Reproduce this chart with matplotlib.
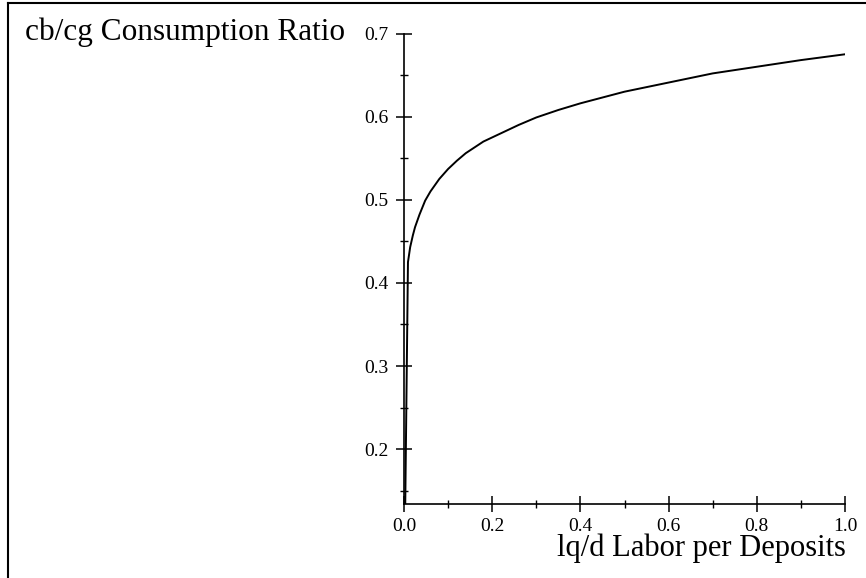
import numpy as np
import matplotlib
matplotlib.use("Agg")
import matplotlib.pyplot as plt
from matplotlib.lines import Line2D
from matplotlib.ticker import FixedLocator

# lq/d against cb/cg, sampled along the curve
labor_per_deposits = [0.0, 0.009, 0.014, 0.02, 0.025, 0.035, 0.048, 0.06, 0.08, 0.1,
                      0.12, 0.14, 0.16, 0.18, 0.22, 0.26, 0.3, 0.35, 0.4, 0.45,
                      0.5, 0.6, 0.7, 0.8, 0.9, 1.0]
consumption_ratio = [0.0, 0.425, 0.443, 0.457, 0.467, 0.482, 0.499, 0.510, 0.525, 0.537,
                     0.547, 0.556, 0.563, 0.570, 0.580, 0.590, 0.599, 0.608, 0.616, 0.623,
                     0.630, 0.641, 0.652, 0.660, 0.668, 0.675]

y_major = [0.2, 0.3, 0.4, 0.5, 0.6, 0.7]
y_minor = [0.15, 0.25, 0.35, 0.45, 0.55, 0.65]
x_major = [0.0, 0.2, 0.4, 0.6, 0.8, 1.0]
x_minor = [0.1, 0.3, 0.5, 0.7, 0.9]

plt.rcParams['font.family'] = ['Liberation Serif', 'DejaVu Serif']

W, H = 866, 578
fig = plt.figure(figsize=(W / 100, H / 100), dpi=100)
ax = fig.add_axes([404 / W, (H - 504) / H, 441 / W, 470.5 / H])

ax.plot(labor_per_deposits, consumption_ratio, color="black", linewidth=1.4)

ax.set_xlim(0, 1.0)
ax.set_ylim(0.134, 0.7)

for side in ("top", "right"):
    ax.spines[side].set_visible(False)
for side in ("left", "bottom"):
    ax.spines[side].set_linewidth(1.2)

ax.yaxis.set_major_locator(FixedLocator(y_major))
ax.yaxis.set_minor_locator(FixedLocator(y_minor))
ax.xaxis.set_major_locator(FixedLocator(x_major))
ax.xaxis.set_minor_locator(FixedLocator(x_minor))
ax.set_yticklabels([f"{v:.1f}" for v in y_major])
ax.set_xticklabels([f"{v:.1f}" for v in x_major])

ax.tick_params(which="major", direction="inout", length=12, width=1.1,
               labelsize=14)
ax.tick_params(which="minor", direction="inout", length=6, width=1.0)
ax.tick_params(axis="y", which="major", pad=5)
ax.tick_params(axis="x", which="major", pad=4)

# axis titles placed as free text, the way the plot labels them
fig.text(25 / W, 1 - 40 / H, "cb/cg Consumption Ratio", fontsize=22.5,
         ha="left", va="baseline")
fig.text(846 / W, 1 - 556 / H, "lq/d Labor per Deposits", fontsize=22,
         ha="right", va="baseline")

# frame around the plot region
fig.add_artist(Line2D([8 / W, 8 / W], [0, 1 - 3 / H], color="black",
                      linewidth=1.5, transform=fig.transFigure))
fig.add_artist(Line2D([8 / W, 1], [1 - 3 / H, 1 - 3 / H], color="black",
                      linewidth=1.5, transform=fig.transFigure))

fig.savefig("out.png", dpi=100)
